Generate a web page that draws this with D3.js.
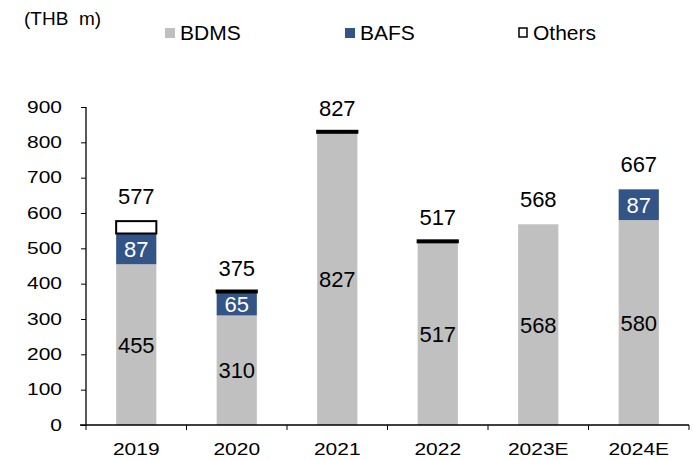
<!DOCTYPE html>
<html>
<head>
<meta charset="utf-8">
<script src="https://cdn.jsdelivr.net/npm/d3@7"></script>
<style>
  body { margin: 0; background: #fff; }
  svg text { font-family: "Liberation Sans", Arial, sans-serif; fill: #000; }
</style>
</head>
<body>
<svg width="694" height="460"></svg>
<script>
const years = ["2019", "2020", "2021", "2022", "2023E", "2024E"];
const bdms = [455, 310, 827, 517, 568, 580];
const bafs = [87, 65, 0, 0, 0, 87];
const others = [35, 0, 0, 0, null, null];
const totals = [577, 375, 827, 517, 568, 667];
const yTicks = [0, 100, 200, 300, 400, 500, 600, 700, 800, 900];

const svg = d3.select("svg");
const x = d3.scaleBand().domain(years).range([86, 689]).paddingInner(0.6).paddingOuter(0.3);
const y = d3.scaleLinear().domain([0, 900]).range([425, 107]);

const rows = years.map((yr, i) => ({
  yr, bdms: bdms[i], bafs: bafs[i], others: others[i], total: totals[i]
}));

// BDMS
svg.append("g").selectAll("rect").data(rows).join("rect")
  .attr("x", d => x(d.yr)).attr("width", x.bandwidth())
  .attr("y", d => y(d.bdms)).attr("height", d => y(0) - y(d.bdms))
  .attr("fill", "#c0c0c0");

// BAFS
svg.append("g").selectAll("rect").data(rows.filter(d => d.bafs > 0)).join("rect")
  .attr("x", d => x(d.yr)).attr("width", x.bandwidth())
  .attr("y", d => y(d.bdms + d.bafs)).attr("height", d => y(d.bdms) - y(d.bdms + d.bafs))
  .attr("fill", "#335486");

// Others (outlined)
svg.append("g").selectAll("rect").data(rows.filter(d => d.others !== null)).join("rect")
  .attr("x", d => x(d.yr)).attr("width", x.bandwidth())
  .attr("y", d => y(d.bdms + d.bafs + d.others) - (d.others ? 0 : 2))
  .attr("height", d => Math.max(2, y(d.bdms + d.bafs) - y(d.bdms + d.bafs + d.others)))
  .attr("fill", d => d.others ? "#fff" : "#000")
  .attr("stroke", "#000").attr("stroke-width", 2);

// segment labels
svg.append("g").selectAll("text").data(rows).join("text")
  .attr("x", d => x(d.yr) + x.bandwidth() / 2)
  .attr("y", d => y(d.bdms / 2) + 8)
  .attr("text-anchor", "middle").attr("font-size", 22)
  .text(d => d.bdms);
svg.append("g").selectAll("text").data(rows.filter(d => d.bafs > 0)).join("text")
  .attr("x", d => x(d.yr) + x.bandwidth() / 2)
  .attr("y", d => y(d.bdms + d.bafs / 2) + 8)
  .attr("text-anchor", "middle").attr("font-size", 22)
  .style("fill", "#fff")
  .text(d => d.bafs);

// totals
svg.append("g").selectAll("text").data(rows).join("text")
  .attr("x", d => x(d.yr) + x.bandwidth() / 2)
  .attr("y", d => y(d.total) - 17)
  .attr("text-anchor", "middle").attr("font-size", 22)
  .text(d => d.total);

// axes
const yAxis = svg.append("g").attr("transform", "translate(86,0)")
  .call(d3.axisLeft(y).tickValues(yTicks).tickSize(5).tickPadding(19));
const xAxis = svg.append("g").attr("transform", "translate(0,425)")
  .call(d3.axisBottom(x).tickSize(0).tickPadding(18));
svg.append("g").selectAll("line").data(years.concat(["end"])).join("line")
  .attr("x1", (d, i) => i < years.length ? x(d) - x.step() * x.paddingInner() / 2 : 689)
  .attr("x2", (d, i) => i < years.length ? x(d) - x.step() * x.paddingInner() / 2 : 689)
  .attr("y1", 425).attr("y2", 430).attr("stroke", "#000");
[yAxis, xAxis].forEach(a => {
  a.select(".domain").attr("stroke", "#000").attr("stroke-width", 1.3);
  // tick labels in the source are drawn a little wide
  a.selectAll("text")
    .attr("font-family", "Liberation Sans, Arial, sans-serif")
    .attr("font-size", 16.5)
    .each(function () {
      const w = this.getComputedTextLength();
      d3.select(this).attr("textLength", w * 1.27).attr("lengthAdjust", "spacingAndGlyphs");
    });
});
yAxis.select(".domain").attr("d", "M0,107V425");
xAxis.select(".domain").attr("d", "M80,0H689");

// header + legend
svg.append("text").attr("x", 24).attr("y", 25).attr("font-size", 19)
  .style("white-space", "pre").text("(THB  m)");
const legend = [
  { name: "BDMS", fill: "#c0c0c0", stroke: "none", x: 165 },
  { name: "BAFS", fill: "#335486", stroke: "none", x: 345 },
  { name: "Others", fill: "#fff", stroke: "#000", x: 518 }
];
const lg = svg.append("g").selectAll("g").data(legend).join("g")
  .attr("transform", d => `translate(${d.x},0)`);
lg.append("rect").attr("x", d => d.stroke === "none" ? 0 : 1).attr("y", 28)
  .attr("width", d => d.stroke === "none" ? 10 : 8).attr("height", d => d.stroke === "none" ? 10 : 9)
  .attr("fill", d => d.fill).attr("stroke", d => d.stroke).attr("stroke-width", 1.5);
lg.append("text").attr("x", 15).attr("y", 40).attr("font-size", 21).text(d => d.name);
</script>
</body>
</html>
